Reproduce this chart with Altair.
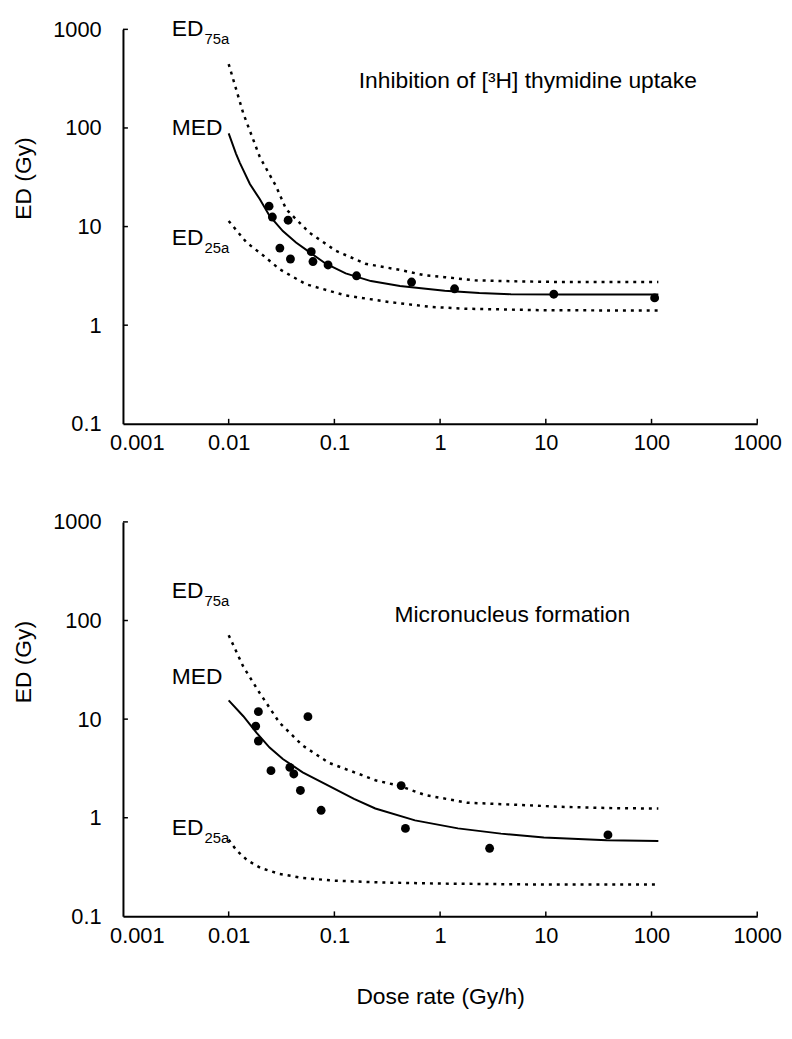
import altair as alt
import pandas as pd

FONT = "Liberation Sans"

# ---------------- data ----------------
x_ticks = [0.001, 0.01, 0.1, 1, 10, 100, 1000]
y_ticks = [0.1, 1, 10, 100, 1000]

# Top panel: inhibition of [3H] thymidine uptake
top_pts_x = [0.0241, 0.0259, 0.0365, 0.0305, 0.0384, 0.0604, 0.0627, 0.0871, 0.162, 0.537, 1.37, 11.9, 107]
top_pts_y = [16.1, 12.5, 11.6, 6.05, 4.69, 5.57, 4.42, 4.08, 3.17, 2.74, 2.34, 2.06, 1.89]

top_med_x = [0.01, 0.01172, 0.01279, 0.01587, 0.01966, 0.02439, 0.03253, 0.04334, 0.05811, 0.083, 0.1279, 0.2218, 0.4172, 1.106, 2.35, 4.67, 14.7, 44.2, 116]
top_med_y = [88, 55, 44, 27, 19, 12.8, 9.0, 6.9, 5.5, 4.2, 3.35, 2.8, 2.5, 2.24, 2.12, 2.06, 2.05, 2.05, 2.05]

top_ed75_x = [0.01, 0.01376, 0.01966, 0.0212, 0.0281, 0.03497, 0.0404, 0.0579, 0.1028, 0.196, 0.436, 0.719, 1.106, 2.135, 5.42, 13.8, 44.2, 116]
top_ed75_y = [445, 140, 51, 44, 25.6, 15, 12.8, 8.7, 5.7, 4.2, 3.6, 3.2, 3.07, 2.85, 2.78, 2.74, 2.74, 2.74]

top_ed25_x = [0.01, 0.01474, 0.0212, 0.03025, 0.0539, 0.1279, 0.325, 0.826, 1.698, 8.78, 44.2, 116]
top_ed25_y = [11.4, 6.9, 5.1, 3.7, 2.6, 2.0, 1.72, 1.53, 1.47, 1.42, 1.41, 1.41]

# Bottom panel: micronucleus formation
bot_pts_x = [0.0191, 0.01803, 0.0191, 0.0562, 0.02513, 0.0379, 0.0413, 0.0477, 0.0749, 0.428, 0.47, 2.94, 38.7]
bot_pts_y = [11.9, 8.5, 6.0, 10.6, 3.0, 3.24, 2.78, 1.89, 1.19, 2.12, 0.78, 0.49, 0.67]

bot_med_x = [0.01, 0.01376, 0.0183, 0.02439, 0.03253, 0.0501, 0.0815, 0.1533, 0.2439, 0.579, 1.475, 3.76, 9.58, 37.7, 116]
bot_med_y = [15.5, 10.7, 7.3, 5.15, 3.94, 2.89, 2.2, 1.55, 1.24, 0.94, 0.78, 0.69, 0.63, 0.59, 0.58]

bot_ed75_x = [0.01, 0.01376, 0.01966, 0.03025, 0.0501, 0.0889, 0.183, 0.2439, 0.4172, 0.719, 1.808, 7.69, 13.8, 44.2, 116]
bot_ed75_y = [71, 34, 18.4, 9.2, 5.4, 3.6, 2.7, 2.4, 2.1, 1.7, 1.42, 1.33, 1.29, 1.25, 1.24]

bot_ed25_x = [0.01, 0.0118, 0.015, 0.02, 0.03, 0.05, 0.1, 0.3, 1, 10, 116]
bot_ed25_y = [0.6, 0.47, 0.37, 0.31, 0.27, 0.245, 0.23, 0.22, 0.215, 0.21, 0.21]

# annotation labels: (main text, subscript, x, y)
top_labels = [("ED", "75a", 0.0029, 1000), ("MED", "", 0.0029, 100), ("ED", "25a", 0.0029, 7.6)]
bot_labels = [("ED", "75a", 0.0029, 200), ("MED", "", 0.0029, 26.4), ("ED", "25a", 0.0029, 0.79)]
top_title = ("Inhibition of [³H] thymidine uptake", 0.170, 297)
bot_title = ("Micronucleus formation", 0.371, 113)

W, H = 640, 398
TICK_FS, TITLE_FS, ANN_FS, SUB_FS = 22, 23, 23, 15


def panel(px, py, medx, medy, e75x, e75y, e25x, e25y, labels, title, x_title, ytitle_y):
    xs = alt.Scale(type="log", domain=[0.001, 1000], nice=False)
    ys = alt.Scale(type="log", domain=[0.1, 1000], nice=False)
    xaxis = alt.Axis(values=x_ticks, format="~g", title=x_title,
                     grid=False, tickSize=0, labelPadding=9, labelFontSize=TICK_FS,
                     labelFont=FONT, labelColor="black", domainColor="black", domainWidth=2,
                     titleFont=FONT, titleFontSize=TITLE_FS, titleFontWeight="normal",
                     titleColor="black", titlePadding=40, labelFlush=False, labelOverlap=False,
                     labelOffset=alt.ExprRef(expr="datum.value < 0.005 ? 14 : 0"))
    yaxis = alt.Axis(values=y_ticks, format="~g", title="ED (Gy)", grid=False, tickSize=0,
                     labelPadding=22, labelFontSize=TICK_FS, labelFont=FONT, labelColor="black",
                     domainColor="black", domainWidth=2, titleFont=FONT, titleFontSize=TITLE_FS,
                     titleFontWeight="normal", titleColor="black", titlePadding=17,
                     titleY=ytitle_y, labelOverlap=False)

    X = alt.X("x:Q", scale=xs, axis=xaxis)
    Y = alt.Y("y:Q", scale=ys, axis=yaxis)

    pts = pd.DataFrame({"x": px, "y": py})
    med = pd.DataFrame({"x": medx, "y": medy})
    dots = pd.concat([
        pd.DataFrame({"x": e75x, "y": e75y, "s": "ED75a"}),
        pd.DataFrame({"x": e25x, "y": e25y, "s": "ED25a"}),
    ])

    base_pts = alt.Chart(pts).mark_circle(color="black", size=80, opacity=1).encode(x=X, y=Y)
    med_line = alt.Chart(med).mark_line(color="black", strokeWidth=2).encode(x=X, y=Y)
    dot_line = alt.Chart(dots).mark_line(color="black", strokeWidth=2.5, strokeDash=[3, 5]).encode(
        x=X, y=Y, detail="s:N")

    # inward tick marks
    ytk = pd.DataFrame({"y": y_ticks[1:]})
    xtk = pd.DataFrame({"x": x_ticks[1:]})
    ytick_rules = alt.Chart(ytk).mark_rule(color="black", strokeWidth=1.5).encode(
        y=Y, x=alt.value(0), x2=alt.value(5))
    xtick_rules = alt.Chart(xtk).mark_rule(color="black", strokeWidth=1.5).encode(
        x=X, y=alt.value(H), y2=alt.value(H - 5))

    lab = pd.DataFrame({"t": [l[0] for l in labels], "sub": [l[1] for l in labels],
                        "x": [l[2] for l in labels], "y": [l[3] for l in labels]})
    main_txt = alt.Chart(lab).mark_text(align="left", baseline="middle", font=FONT,
                                        fontSize=ANN_FS, color="black").encode(x=X, y=Y, text="t:N")
    sub_txt = alt.Chart(lab).mark_text(align="left", baseline="middle", font=FONT,
                                       fontSize=SUB_FS, color="black", dx=33, dy=10).encode(
        x=X, y=Y, text="sub:N")
    ttl = pd.DataFrame({"t": [title[0]], "x": [title[1]], "y": [title[2]]})
    title_txt = alt.Chart(ttl).mark_text(align="left", baseline="middle", font=FONT,
                                         fontSize=ANN_FS, color="black").encode(x=X, y=Y, text="t:N")

    return alt.layer(dot_line, med_line, base_pts, ytick_rules, xtick_rules,
                     main_txt, sub_txt, title_txt).properties(width=W, height=H)


top = panel(top_pts_x, top_pts_y, top_med_x, top_med_y, top_ed75_x, top_ed75_y,
            top_ed25_x, top_ed25_y, top_labels, top_title, "", 150)
bottom = panel(bot_pts_x, bot_pts_y, bot_med_x, bot_med_y, bot_ed75_x, bot_ed75_y,
               bot_ed25_x, bot_ed25_y, bot_labels, bot_title, "Dose rate (Gy/h)", 141)

chart = alt.vconcat(top, bottom, spacing=58).properties(
    padding={"left": 5, "top": 6, "right": 2, "bottom": 2},
    background="white",
).configure_view(stroke=None)

chart.save("out.html", embed_options={"renderer": "svg", "actions": False})
